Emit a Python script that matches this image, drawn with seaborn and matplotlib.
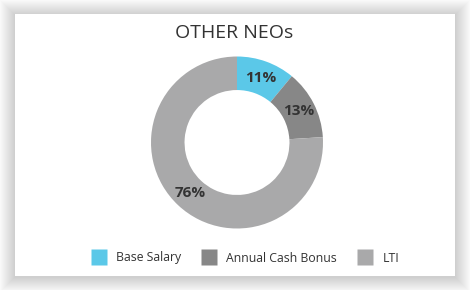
import matplotlib
matplotlib.use("Agg")
import matplotlib.pyplot as plt
import seaborn as sns
from matplotlib.patches import Rectangle
from matplotlib.lines import Line2D

categories = ["Base Salary", "Annual Cash Bonus", "LTI"]
values = [11, 13, 76]
colors = ["#5BC8E8", "#878787", "#A9A9AA"]
title = "OTHER NEOs"

sns.set_theme(style="white")
plt.rcParams['font.family'] = ['Open Sans', 'DejaVu Sans']

W, H = 470, 290
fig = plt.figure(figsize=(W / 100, H / 100), dpi=100)
fig.patch.set_facecolor("white")

# card with soft shadow
cx0, cy0, cx1, cy1 = 15, 14, 455, 276
for i in range(16, 0, -1):
    fig.patches.append(Rectangle(((cx0 - i) / W, 1 - (cy1 + i + 1) / H),
                                 (cx1 - cx0 + 2 * i) / W, (cy1 - cy0 + 2 * i) / H,
                                 transform=fig.transFigure, facecolor="#000000",
                                 alpha=0.011, edgecolor="none", zorder=0))
fig.patches.append(Rectangle((cx0 / W, 1 - cy1 / H), (cx1 - cx0) / W, (cy1 - cy0) / H,
                             transform=fig.transFigure, facecolor="white",
                             edgecolor="none", zorder=1))

# donut
ccx, ccy, R = 237, 142.5, 86
ax = fig.add_axes([(ccx - R) / W, 1 - (ccy + R) / H, 2 * R / W, 2 * R / H])
ax.set_zorder(2)
wedges, texts, autotexts = ax.pie(values, colors=colors, startangle=90, counterclock=False,
                                  radius=1, wedgeprops=dict(width=0.39, edgecolor="none"),
                                  autopct=lambda p: f"{p:.0f}%", pctdistance=0.8,
                                  textprops=dict(fontsize=11, fontweight="bold", color="#333333"))
ax.set_xlim(-1, 1)
ax.set_ylim(-1, 1)
ax.set_aspect("auto")
ax.axis("off")

fig.text(234 / W, 1 - 33 / H, title, ha="center", va="center", fontsize=14,
         color="#333333", zorder=3)

handles = [Line2D([], [], marker="s", linestyle="none", markersize=12,
                  markerfacecolor=c, markeredgecolor="none") for c in colors]
leg = fig.legend(handles, categories, loc="center", bbox_to_anchor=(246 / W, 1 - 258 / H),
                 ncol=3, frameon=False, fontsize=8.8, handlelength=1.0, handletextpad=0.9,
                 columnspacing=1.8, labelcolor="#333333")
leg.set_zorder(3)

fig.savefig("out.png", dpi=100)
